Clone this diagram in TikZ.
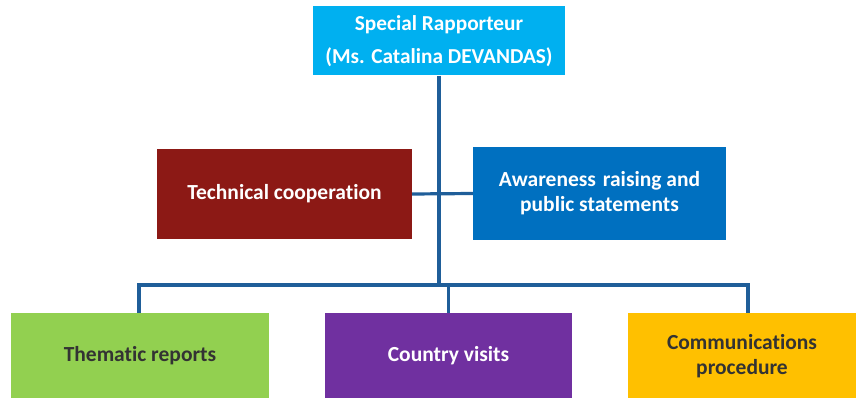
\documentclass[tikz,border=0pt]{standalone}
\usepackage{fontspec}
\setmainfont{Carlito}[Ligatures=NoCommon]
\definecolor{topblue}{HTML}{00B0F0}
\definecolor{techred}{HTML}{8C1915}
\definecolor{awblue}{HTML}{0070C0}
\definecolor{thgreen}{HTML}{92D050}
\definecolor{cvpurple}{HTML}{7030A0}
\definecolor{cpyellow}{HTML}{FFC000}
\definecolor{linkblue}{HTML}{1F5E99}
\definecolor{darktext}{HTML}{333333}
\tikzset{
  box/.style={rectangle, inner sep=0pt, align=center, font=\bfseries\fontsize{21.5}{25}\selectfont},
  link/.style={draw=linkblue, line width=3.2pt}
}
\begin{document}
\begin{tikzpicture}[x=1pt,y=-1pt]
\useasboundingbox (0,0) rectangle (856,398);
\node[box, fill=topblue, text=white, minimum width=252, minimum height=69, font=\bfseries\fontsize{21.3}{33}\selectfont] (top) at (439,41) {Special Rapporteur\\(Ms. Catalina DEVANDAS)};
\node[box, fill=techred, text=white, minimum width=255, minimum height=90] (tech) at (284.5,194) {Technical cooperation};
\node[box, fill=awblue, text=white, minimum width=253, minimum height=92] (aware) at (599.5,193.5) {Awareness\kern2pt\ raising and\\public statements};
\node[box, fill=thgreen, text=darktext, minimum width=258, minimum height=86] (them) at (140,356) {Thematic reports};
\node[box, fill=cvpurple, text=white, minimum width=247, minimum height=86] (visit) at (448.5,356) {Country visits};
\node[box, fill=cpyellow, text=darktext, minimum width=228, minimum height=86] (comm) at (742,356) {Communications\\procedure};
\coordinate (j) at (439,285);
\draw[link] (top.south) -- (j);
\draw[link] (tech.east) -- (aware.west);
\draw[link] ([xshift=-1pt]them.north) |- (j) -| ([xshift=6pt]comm.north);
\draw[link] (visit.north) -- (visit.north |- j);
\end{tikzpicture}
\end{document}
